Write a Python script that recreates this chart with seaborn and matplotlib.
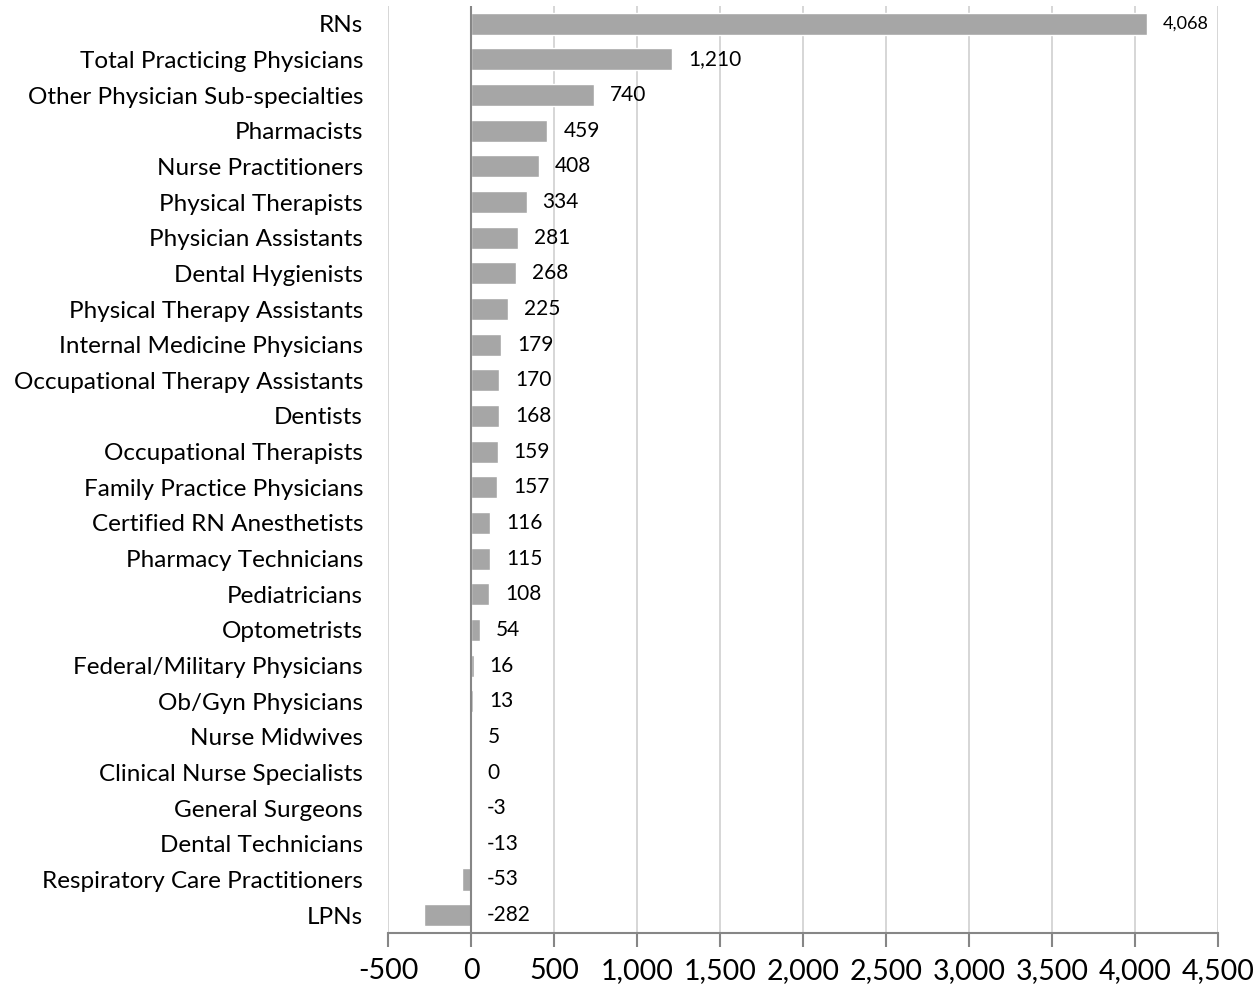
import seaborn as sns
import pandas as pd
import matplotlib.pyplot as plt

# Change in workforce by profession
professions = [
    'RNs', 'Total Practicing Physicians', 'Other Physician Sub-specialties',
    'Pharmacists', 'Nurse Practitioners', 'Physical Therapists',
    'Physician Assistants', 'Dental Hygienists', 'Physical Therapy Assistants',
    'Internal Medicine Physicians', 'Occupational Therapy Assistants', 'Dentists',
    'Occupational Therapists', 'Family Practice Physicians',
    'Certified RN Anesthetists', 'Pharmacy Technicians', 'Pediatricians',
    'Optometrists', 'Federal/Military Physicians', 'Ob/Gyn Physicians',
    'Nurse Midwives', 'Clinical Nurse Specialists', 'General Surgeons',
    'Dental Technicians', 'Respiratory Care Practitioners', 'LPNs'
]
change = [4068, 1210, 740, 459, 408, 334, 281, 268, 225, 179, 170, 168, 159,
          157, 116, 115, 108, 54, 16, 13, 5, 0, -3, -13, -53, -282]
x_ticks = list(range(-500, 5000, 500))

df = pd.DataFrame({'Profession': professions, 'Change': change})

sns.set_theme(style="white")
plt.rcParams['font.family'] = ['Lato', 'DejaVu Sans']

fig, ax = plt.subplots(figsize=(12.6, 9.9), dpi=100)
fig.subplots_adjust(left=0.308, right=0.967, top=0.994, bottom=0.0576)

sns.barplot(data=df, y='Profession', x='Change', orient='h', color='#A6A6A6',
            saturation=1, width=0.62, ax=ax, zorder=3)

ax.set_xlim(-500, 4500)
ax.set_xticks(x_ticks)
ax.set_xticklabels([f'{t:,}' for t in x_ticks], fontsize=20.5)
ax.xaxis.grid(True, color='#D0D0D0', linewidth=1.2, zorder=0)
ax.axvline(0, color='#868686', linewidth=1.5, zorder=4)

for s in ['top', 'right', 'left']:
    ax.spines[s].set_visible(False)
ax.spines['bottom'].set_color('#868686')
ax.spines['bottom'].set_linewidth(1.5)
ax.tick_params(axis='x', bottom=True, length=10, width=1.5, color='#868686',
               direction='out', pad=8, labelcolor='black')
ax.tick_params(axis='y', left=False, labelsize=17.5, labelcolor='black', pad=12)
ax.set_xlabel('')
ax.set_ylabel('')

for i, v in enumerate(change):
    ax.annotate(f'{v:,}', xy=(max(v, 0), i), xytext=(11.5, 0),
                textcoords='offset points', va='center', ha='left',
                fontsize=13 if v > 3800 else 15, color='black', zorder=5)

plt.savefig('out.png', dpi=100)
